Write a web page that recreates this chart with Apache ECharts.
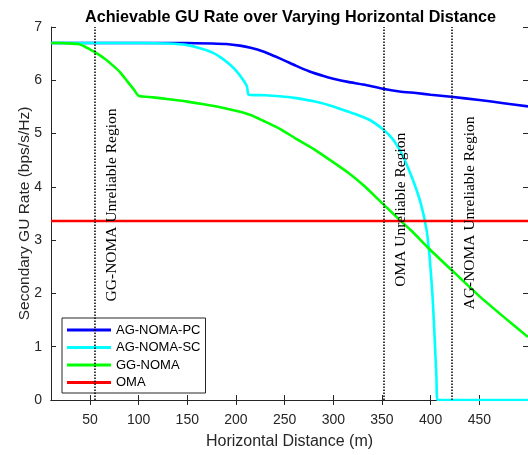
<!DOCTYPE html>
<html><head><meta charset="utf-8">
<script src="https://cdn.jsdelivr.net/npm/echarts@6/dist/echarts.min.js"></script>
<style>html,body{margin:0;padding:0;background:#fff}#c{width:528px;height:455px}</style>
</head><body><div id="c"></div><script>
// ---- data ----
const pcX = [10, 50, 100, 150, 175, 190, 204, 215, 228, 240, 250, 262, 275, 290, 300, 315, 331, 351, 368, 385, 400, 421, 450, 475, 500];
const pcY = [6.70, 6.70, 6.70, 6.70, 6.69, 6.68, 6.65, 6.61, 6.54, 6.45, 6.37, 6.27, 6.17, 6.08, 6.03, 5.97, 5.92, 5.84, 5.79, 5.76, 5.73, 5.69, 5.63, 5.57, 5.51];

const scX = [10, 50, 100, 130, 150, 165, 177, 185, 194, 202, 211, 212, 213, 230, 245, 260, 279, 300, 314, 325, 338, 351, 360, 366, 372, 382, 390, 396, 399, 402, 404, 406, 407, 500];
const scY = [6.70, 6.70, 6.70, 6.69, 6.66, 6.59, 6.51, 6.42, 6.29, 6.14, 5.90, 5.80, 5.73, 5.72, 5.70, 5.67, 5.61, 5.51, 5.42, 5.35, 5.25, 5.08, 4.92, 4.76, 4.56, 4.12, 3.68, 3.17, 2.67, 1.93, 1.20, 0.40, 0, 0];

const ggX = [10, 20, 30, 38, 45, 50, 55, 65, 74, 81, 88, 95, 100, 115, 133, 150, 167, 185, 202, 215, 228, 245, 262, 280, 297, 315, 331, 351, 367, 380, 399, 422, 450, 475, 500];
const ggY = [6.70, 6.70, 6.69, 6.68, 6.63, 6.58, 6.53, 6.41, 6.27, 6.15, 5.99, 5.83, 5.71, 5.68, 5.64, 5.60, 5.55, 5.49, 5.42, 5.35, 5.24, 5.09, 4.90, 4.71, 4.50, 4.27, 4.03, 3.68, 3.40, 3.18, 2.83, 2.43, 1.95, 1.56, 1.18];

const omaX = [10, 500];
const omaY = [3.36, 3.36];

const seriesNames = ['AG-NOMA-PC', 'AG-NOMA-SC', 'GG-NOMA', 'OMA'];
const xTicks = [50, 100, 150, 200, 250, 300, 350, 400, 450];
const regionX = [55, 352, 422];
const regionText = ['GG-NOMA Unreliable Region', 'OMA Unreliable Region', 'AG-NOMA Unreliable Region'];
const regionLabelX = [73, 369, 440];
const regionLabelY = [3.66, 3.57, 3.51];

// ---- chart ----
const zip = (xs, ys) => xs.map((x, i) => [x, ys[i]]);
const colors = ['#0000ff', '#00ffff', '#00ff00', '#ff0000'];
const axCol = '#262626';
const sans = 'Liberation Sans, Arial, sans-serif';

const chart = echarts.init(document.getElementById('c'), null, {renderer: 'canvas'});
const mkSeries = (name, data, color, extra) => Object.assign({
  name, type: 'line', data, showSymbol: false, symbol: 'none',
  smooth: 0.2,
  lineStyle: {color, width: 2.6}, itemStyle: {color}, animation: false, z: 3
}, extra || {});

const option = {
  animation: false,
  backgroundColor: '#fff',
  title: {
    text: 'Achievable GU Rate over Varying Horizontal Distance',
    left: 80, top: 5,
    textStyle: {fontFamily: sans, fontSize: 16.2, fontWeight: 'bold', color: '#000'}
  },
  grid: {left: 51, right: -1, top: 27, bottom: 51, containLabel: false},
  legend: {
    orient: 'vertical', left: 62, top: 318,
    data: seriesNames.map(n => ({name: n, icon: 'rect'})),
    itemWidth: 44, itemHeight: 3, itemGap: 4.5,
    padding: [5.5, 5, 4, 5],
    borderColor: axCol, borderWidth: 1, backgroundColor: '#fff',
    textStyle: {fontFamily: sans, fontSize: 13, color: '#000', lineHeight: 13},
    selectedMode: false
  },
  xAxis: [{
    type: 'value', min: 10, max: 500, position: 'bottom',
    name: 'Horizontal Distance (m)', nameLocation: 'middle', nameGap: 34, nameMoveOverlap: false,
    nameTextStyle: {fontFamily: sans, fontSize: 16, color: axCol},
    axisLine: {show: true, lineStyle: {color: axCol, width: 1}},
    axisTick: {show: true, inside: true, length: 5, customValues: xTicks, lineStyle: {color: axCol}},
    axisLabel: {show: true, customValues: xTicks, margin: 13, fontFamily: sans, fontSize: 14, color: axCol},
    splitLine: {show: false}
  }, {
    type: 'value', min: 10, max: 500, position: 'top',
    axisLine: {show: true, lineStyle: {color: axCol, width: 1}},
    axisTick: {show: true, inside: true, length: 5, customValues: xTicks, lineStyle: {color: axCol}},
    axisLabel: {show: false}, splitLine: {show: false}
  }],
  yAxis: [{
    type: 'value', min: 0, max: 7, interval: 1, position: 'left',
    name: 'Secondary GU Rate (bps/s/Hz)', nameLocation: 'middle', nameGap: 18, nameMoveOverlap: false,
    nameTextStyle: {fontFamily: sans, fontSize: 15.5, color: axCol},
    axisLine: {show: true, lineStyle: {color: axCol, width: 1}},
    axisTick: {show: true, inside: true, length: 5, lineStyle: {color: axCol}},
    axisLabel: {show: true, margin: 9, fontFamily: sans, fontSize: 14, color: axCol},
    splitLine: {show: false}
  }, {
    type: 'value', min: 0, max: 7, interval: 1, position: 'right',
    axisLine: {show: true, lineStyle: {color: axCol, width: 1}},
    axisTick: {show: true, inside: true, length: 5, lineStyle: {color: axCol}},
    axisLabel: {show: false}, splitLine: {show: false}
  }],
  series: [
    mkSeries(seriesNames[0], zip(pcX, pcY), colors[0]),
    mkSeries(seriesNames[1], zip(scX, scY), colors[1]),
    mkSeries(seriesNames[2], zip(ggX, ggY), colors[2]),
    mkSeries(seriesNames[3], zip(omaX, omaY), colors[3], {
      smooth: false,
      markLine: {
        silent: true, symbol: 'none', animation: false,
        label: {show: false},
        lineStyle: {color: '#000', type: [1.5, 1.5], width: 1.5},
        data: regionX.map(v => ({xAxis: v}))
      }
    })
  ]
};
chart.setOption(option);

const texts = regionText.map((t, i) => {
  const p = chart.convertToPixel({gridIndex: 0}, [regionLabelX[i], regionLabelY[i]]);
  return {
    type: 'text', x: p[0], y: p[1], rotation: Math.PI / 2, z: 10,
    style: {
      text: t, textAlign: 'center', textVerticalAlign: 'middle',
      font: '15.5px "Liberation Serif", "Times New Roman", serif', fill: '#000'
    }
  };
});
chart.setOption({graphic: texts});
</script></body></html>
